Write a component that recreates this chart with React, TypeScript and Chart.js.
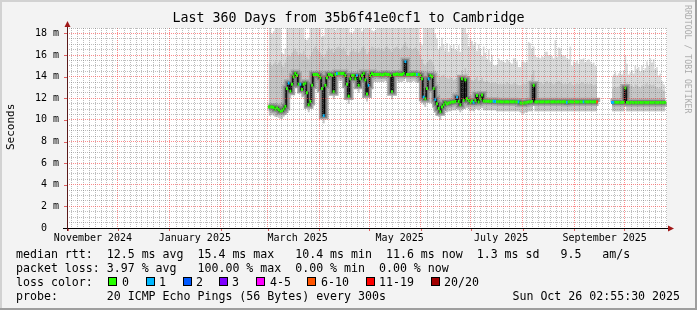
import React, { useEffect, useRef } from 'react';
import { Chart, registerables } from 'chart.js';

Chart.register(...registerables);

// x values are days since the graph start (2024-10-31); the graph spans 360 days
const X_MIN_DAY = 0;
const X_MAX_DAY = 360;
const Y_MIN_MS = 0;
const Y_MAX_MS = 18.5;
const FIRST_DAY = 121; // first day with data (end of Feb 2025)

// median round-trip time per day, ms (null = no data)
const MEDIAN_MS = [
  11.2, 11.2, 11.2, 11.15, 11.0, 11.1, 10.95, 10.8, 10.85, 11.0,
  11.25, 12.9, 13.4, 12.65, 13.3, 14.0, 14.3, 14.1, 13.3, 13.3,
  12.8, 13.3, 13.4, 12.5, 11.4, 11.7, 13.2, 14.2, 14.2, 14.2,
  14.1, 13.9, 12.9, 10.4, 13.2, 13.9, 14.2, 14.2, 14.1, 12.6,
  14.2, 14.3, 14.3, 14.3, 14.3, 14.3, 14.1, 13.3, 12.2, 13.8,
  14.1, 14.1, 13.8, 14.1, 13.2, 13.8, 14.1, 14.3, 13.7, 12.4,
  13.2, 14.1, 14.3, 14.2, 14.2, 14.2, 14.2, 14.2, 14.15, 14.2,
  14.25, 14.2, 14.2, 14.1, 12.6, 14.2, 14.2, 14.25, 14.2, 14.2,
  14.2, 14.3, 15.4, 14.2, 14.2, 14.2, 14.2, 14.25, 14.2, 14.2,
  14.2, 14.1, 13.8, 12.1, 11.95, 12.9, 13.8, 14.1, 14.0, 12.9,
  11.9, 11.5, 11.05, 10.75, 11.2, 11.4, 11.6, 11.5, 11.55, 11.6,
  11.65, 11.65, 11.7, 12.1, 11.7, 11.4, 13.8, 11.8, 13.7, 11.95,
  11.8, 11.6, 11.72, 11.6, 11.8, 12.25, 11.65, 11.95, 12.3, 11.75,
  11.72, 11.72, 11.72, 11.7, 11.72, 11.72, 11.7, 11.68, 11.68, 11.68,
  11.66, 11.68, 11.66, 11.68, 11.66, 11.68, 11.66, 11.68, 11.66, 11.66,
  11.66, 11.56, 11.55, 11.55, 11.58, 11.6, 11.66, 11.66, 11.7, 13.2,
  11.66, 11.66, 11.68, 11.66, 11.66, 11.68, 11.66, 11.66, 11.68, 11.66,
  11.66, 11.68, 11.66, 11.66, 11.68, 11.66, 11.66, 11.68, 11.66, 11.6,
  11.66, 11.68, 11.66, 11.66, 11.68, 11.66, 11.66, 11.68, 11.66, 11.66,
  11.68, 11.66, 11.66, 11.68, 11.66, 11.66, 11.68, 11.66, null, null,
  null, null, null, null, null, null, 11.6, 11.6, 11.62, 11.6,
  11.62, 11.6, 11.6, 11.62, 12.95, 11.6, 11.58, 11.6, 11.6, 11.58,
  11.6, 11.58, 11.6, 11.6, 11.58, 11.6, 11.6, 11.58, 11.6, 11.6,
  11.58, 11.6, 11.6, 11.58, 11.6, 11.6, 11.58, 11.6, 11.6,
];

// loss bucket per day (index into LOSS_COLORS)
const LOSS_BUCKET = [
  0, 0, 0, 0, 0, 0, 0, 0, 0, 0,
  0, 0, 1, 0, 0, 0, 0, 0, 0, 1,
  0, 0, 0, 0, 0, 0, 0, 0, 0, 0,
  0, 0, 0, 1, 0, 0, 0, 0, 0, 0,
  0, 1, 0, 0, 0, 0, 0, 0, 0, 0,
  0, 0, 0, 1, 0, 0, 0, 0, 0, 0,
  1, 0, 0, 0, 0, 0, 0, 0, 0, 0,
  0, 0, 0, 0, 0, 0, 0, 0, 0, 0,
  0, 0, 1, 0, 0, 0, 0, 0, 0, 1,
  0, 0, 0, 1, 0, 0, 1, 0, 0, 0,
  1, 0, 0, 0, 0, 0, 0, 0, 0, 0,
  0, 0, 0, 1, 0, 0, 0, 0, 0, 0,
  0, 0, 0, 1, 0, 0, 0, 0, 0, 0,
  0, 0, 0, 0, 0, 1, 1, 0, 0, 0,
  0, 0, 0, 0, 0, 0, 0, 0, 0, 0,
  1, 0, 0, 0, 0, 0, 0, 0, 0, 0,
  0, 0, 0, 0, 0, 0, 0, 0, 0, 0,
  0, 0, 0, 0, 0, 0, 0, 0, 0, 1,
  0, 0, 0, 0, 0, 0, 0, 0, 0, 1,
  0, 0, 0, 0, 0, 0, 0, 5, null, null,
  null, null, null, null, null, null, 1, 1, 0, 0,
  0, 0, 0, 0, 0, 0, 0, 0, 0, 0,
  0, 0, 0, 0, 0, 0, 0, 0, 0, 0,
  0, 0, 0, 0, 0, 0, 0, 0, 0,
];

// lower edge of the smoke, ms
const SMOKE_MIN_MS = [
  10.4, 10.4, 10.5, 10.4, 10.3, 10.3, 10.2, 10.1, 10.1, 10.3,
  10.5, 11.0, 12.6, 12.0, 12.5, 13.2, 13.6, 13.2, 12.6, 12.5,
  12.1, 12.5, 12.2, 11.4, 10.7, 11.0, 11.8, 13.5, 13.5, 13.5,
  13.4, 13.0, 12.0, 9.7, 12.2, 13.2, 13.5, 13.5, 13.3, 11.9,
  13.5, 13.6, 13.6, 13.6, 13.6, 13.6, 13.3, 12.4, 11.5, 12.6,
  13.4, 13.4, 13.1, 13.4, 12.5, 13.0, 13.4, 13.5, 12.9, 11.7,
  12.4, 13.3, 13.6, 13.5, 13.5, 13.5, 13.5, 13.5, 13.5, 13.5,
  13.6, 13.5, 13.5, 13.2, 11.9, 13.4, 13.5, 13.6, 13.5, 13.5,
  13.5, 13.6, 14.0, 13.5, 13.5, 13.5, 13.5, 13.6, 13.5, 13.5,
  13.5, 13.3, 12.9, 11.4, 11.2, 11.8, 12.9, 13.3, 13.0, 12.0,
  11.2, 10.8, 10.3, 10.0, 10.4, 10.6, 10.8, 10.7, 10.8, 10.8,
  10.9, 10.9, 10.9, 11.1, 10.9, 10.7, 10.9, 11.0, 11.0, 11.1,
  11.0, 10.8, 10.9, 10.8, 11.0, 11.0, 10.9, 11.0, 11.1, 10.9,
  10.9, 10.9, 10.9, 10.9, 10.9, 10.9, 10.9, 10.8, 10.8, 10.8,
  10.8, 10.8, 10.8, 10.8, 10.8, 10.8, 10.8, 10.8, 10.8, 10.8,
  10.8, 10.7, 10.6, 10.6, 10.7, 10.7, 10.8, 10.8, 10.8, 12.3,
  10.8, 10.8, 10.8, 10.8, 10.8, 10.8, 10.8, 10.8, 10.8, 10.8,
  10.8, 10.8, 10.8, 10.8, 10.8, 10.8, 10.8, 10.8, 10.8, 10.8,
  10.8, 10.8, 10.8, 10.8, 10.8, 10.8, 10.8, 10.8, 10.8, 10.8,
  10.8, 10.8, 10.8, 10.8, 10.8, 10.8, 10.8, 10.8, null, null,
  null, null, null, null, null, null, 10.8, 10.8, 10.8, 10.8,
  10.8, 10.8, 10.8, 10.8, 12.2, 10.8, 10.8, 10.8, 10.8, 10.8,
  10.8, 10.8, 10.8, 10.8, 10.8, 10.8, 10.8, 10.8, 10.8, 10.8,
  10.8, 10.8, 10.8, 10.8, 10.8, 10.8, 10.8, 10.8, 10.8,
];

// upper edge of the denser (middle) smoke, ms
const SMOKE_MID_MS = [
  15.2, 15.3, 15.0, 15.2, 15.4, 15.1, 15.3, 15.5, 15.0, 14.9,
  15.3, 15.8, 16.0, 15.9, 16.2, 16.4, 16.6, 16.3, 16.0, 16.2,
  16.1, 16.4, 16.0, 15.8, 15.6, 15.9, 16.3, 16.6, 16.8, 16.5,
  16.4, 16.2, 16.0, 15.8, 16.1, 16.4, 16.7, 16.5, 16.6, 16.2,
  16.5, 16.7, 16.8, 16.6, 16.5, 16.7, 16.4, 16.0, 15.9, 16.3,
  16.4, 16.6, 16.3, 16.5, 16.2, 16.4, 16.7, 16.8, 16.5, 16.1,
  16.3, 16.6, 16.8, 16.7, 16.5, 16.6, 16.7, 16.5, 16.6, 16.4,
  16.7, 16.8, 16.6, 16.5, 16.3, 16.6, 16.7, 16.8, 16.6, 16.5,
  16.7, 16.9, 17.2, 16.8, 16.6, 16.7, 16.5, 16.6, 16.7, 16.5,
  16.4, 16.0, 15.6, 15.2, 15.0, 15.3, 15.5, 15.6, 15.4, 15.0,
  14.6, 14.4, 14.2, 14.0, 14.1, 14.2, 14.0, 13.9, 13.8, 14.0,
  13.9, 13.7, 13.8, 13.9, 13.8, 13.9, 14.6, 14.2, 14.8, 14.3,
  13.9, 13.8, 13.7, 13.6, 13.8, 14.0, 13.6, 13.7, 13.9, 13.6,
  13.5, 13.6, 13.5, 13.4, 13.5, 13.4, 13.5, 13.4, 13.3, 13.4,
  13.3, 13.4, 13.3, 13.5, 13.4, 13.3, 13.3, 13.4, 13.5, 13.3,
  13.2, 13.2, 13.3, 13.4, 13.3, 13.4, 13.6, 13.7, 14.2, 14.6,
  13.6, 13.5, 13.4, 13.5, 13.4, 13.3, 13.5, 13.6, 13.4, 13.5,
  13.4, 13.3, 13.4, 13.5, 13.6, 13.5, 13.4, 13.3, 13.4, 13.3,
  13.4, 13.5, 13.3, 13.2, 13.3, 13.4, 13.3, 13.4, 13.5, 13.4,
  13.3, 13.4, 13.3, 13.4, 13.3, 13.2, 13.3, 13.2, null, null,
  null, null, null, null, null, null, 12.9, 13.0, 13.1, 13.0,
  13.1, 13.2, 13.0, 13.1, 13.9, 13.4, 13.0, 13.1, 13.2, 13.0,
  13.3, 13.2, 13.1, 13.0, 13.2, 13.1, 13.3, 13.4, 13.2, 13.3,
  13.2, 13.3, 13.1, 13.0, 12.9, 13.0, 12.8, 12.7, 12.7,
];

// upper edge of the lightest smoke (highest ping), ms; values above 18.5 are clipped
const SMOKE_MAX_MS = [
  19, 19, 18.0, 18.2, 19, 19, 19, 19, 16.2, 16.1,
  16.6, 19, 19, 19, 18.6, 19, 19, 19, 19, 19,
  19, 19, 17.5, 17.4, 17.6, 19, 19, 19, 19, 19,
  19, 19, 17.7, 17.8, 19, 19, 19, 19, 19, 19,
  18.3, 19, 19, 19, 19, 19, 19, 19, 19, 18.1,
  18.0, 18.2, 19, 19, 19, 19, 18.2, 18.4, 19, 19,
  19, 19, 18.3, 18.2, 18.3, 19, 19, 19, 19, 18.6,
  19, 19, 19, 19, 19, 19, 19, 19, 19, 19,
  19, 19, 19, 19, 19, 19, 19, 19, 19, 19,
  19, 17.2, 16.9, 19, 19, 19, 19, 19, 19, 19,
  18.0, 17.5, 16.5, 16.8, 17.6, 17.0, 16.4, 17.1, 16.3, 16.9,
  16.6, 17.0, 16.5, 16.4, 16.9, 16.3, 19, 19, 19, 18.0,
  16.8, 17.5, 17.3, 16.9, 17.2, 16.4, 17.0, 16.6, 15.9, 16.8,
  16.2, 15.6, 16.5, 15.4, 16.0, 15.1, 15.0, 15.1, 15.7, 15.5,
  15.5, 15.4, 15.3, 15.6, 15.5, 15.3, 15.2, 15.7, 15.7, 15.4,
  14.9, 14.9, 15.4, 15.4, 15.3, 15.4, 17.2, 17.1, 16.6, 16.8,
  16.0, 15.8, 15.8, 15.7, 15.9, 15.8, 16.3, 16.3, 16.0, 16.0,
  15.9, 15.7, 17.4, 15.8, 16.7, 16.6, 16.0, 15.9, 16.0, 15.7,
  15.6, 16.8, 15.0, 15.4, 15.3, 15.5, 15.2, 15.6, 15.6, 15.7,
  15.3, 15.5, 15.6, 15.4, 15.2, 15.3, 15.0, 14.9, null, null,
  null, null, null, null, null, null, 14.0, 14.2, 14.4, 14.1,
  14.3, 14.5, 14.2, 14.6, 16.0, 15.2, 14.2, 14.4, 14.6, 14.3,
  15.0, 14.7, 14.9, 14.5, 15.0, 14.6, 14.8, 15.4, 15.0, 15.7,
  15.3, 15.6, 14.7, 14.9, 14.1, 14.3, 13.6, 13.3, 13.2,
];

const LOSS_COLORS = ['#26ff00', '#00b8ff', '#0059ff', '#7e00ff', '#ff00ff', '#ff5500', '#ff0000', '#a10000'];
const LOSS_LABELS = ['0', '1', '2', '3', '4-5', '6-10', '11-19', '20/20'];

// grid / axis labels
const MONTH_LINE_DAYS = [0.3, 30.3, 61.3, 92.3, 120.3, 151.3, 181.3, 212.3, 242.3, 273.3, 304.3, 334.3];
const MONTH_LABELS = ['November 2024', 'January 2025', 'March 2025', 'May 2025', 'July 2025', 'September 2025'];
const MONTH_LABEL_DAYS = [15.6, 76.7, 138.4, 199.6, 260.5, 322.6];
const Y_LABEL_VALUES = [0, 2, 4, 6, 8, 10, 12, 14, 16, 18];

const TITLE = 'Last 360 Days from 35b6f41e0cf1 to Cambridge';
const LEGEND_LINE_1 = 'median rtt:  12.5 ms avg  15.4 ms max   10.4 ms min  11.6 ms now  1.3 ms sd   9.5   am/s';
const LEGEND_LINE_2 = 'packet loss: 3.97 % avg   100.00 % max  0.00 % min  0.00 % now';
const LEGEND_LINE_3 = 'loss color:';
const LEGEND_LINE_4 = 'probe:       20 ICMP Echo Pings (56 Bytes) every 300s';
const TIMESTAMP = 'Sun Oct 26 02:55:30 2025';

const MAJOR_GRID = 'rgba(250, 70, 70, 0.62)';
const MINOR_GRID = 'rgba(110, 110, 110, 0.45)';
const MONO = '"DejaVu Sans Mono", monospace';

const pts = (arr: (number | null)[]) => arr.map((v, i) => ({ x: FIRST_DAY + i, y: v }));

const minorDays: number[] = [];
for (let d = 2.9; d < X_MAX_DAY; d += 3.5) {
  if (!MONTH_LINE_DAYS.some((m) => Math.abs(m - d) < 1.2)) minorDays.push(Math.round(d * 100) / 100);
}
const labelMap = new Map<number, string>();
MONTH_LABEL_DAYS.forEach((d, i) => labelMap.set(d, MONTH_LABELS[i]));
const majorSet = new Set<number>(MONTH_LINE_DAYS);

const xTickValues = [...MONTH_LINE_DAYS, ...minorDays, ...MONTH_LABEL_DAYS].sort((a, b) => a - b);
const yTickValues: number[] = [];
for (let v = 0; v <= Y_MAX_MS + 1e-9; v += 0.5) yTickValues.push(Math.round(v * 10) / 10);

const framePlugin = {
  id: 'rrdFrame',
  beforeDraw(chart: any) {
    const { ctx, chartArea: a } = chart;
    ctx.save();
    ctx.fillStyle = '#ffffff';
    ctx.fillRect(a.left, a.top, a.right - a.left, a.bottom - a.top);
    ctx.restore();
  },
  afterDraw(chart: any) {
    const { ctx, chartArea: a, scales } = chart;
    ctx.save();
    ctx.strokeStyle = 'rgba(220, 60, 60, 0.8)';
    ctx.lineWidth = 1;
    MONTH_LINE_DAYS.forEach((d) => {
      const x = Math.round(scales.x.getPixelForValue(d)) + 0.5;
      ctx.beginPath();
      ctx.moveTo(x, a.bottom);
      ctx.lineTo(x, a.bottom + 3);
      ctx.stroke();
    });
    Y_LABEL_VALUES.forEach((v) => {
      const y = Math.round(scales.y.getPixelForValue(v)) + 0.5;
      ctx.beginPath();
      ctx.moveTo(a.left - 3, y);
      ctx.lineTo(a.left, y);
      ctx.stroke();
    });
    ctx.strokeStyle = '#000000';
    ctx.beginPath();
    ctx.moveTo(a.left - 4, a.bottom + 0.5);
    ctx.lineTo(a.right + 2, a.bottom + 0.5);
    ctx.stroke();
    ctx.strokeStyle = '#5a1a1a';
    ctx.beginPath();
    ctx.moveTo(a.left + 0.5, a.bottom + 3);
    ctx.lineTo(a.left + 0.5, a.top - 2);
    ctx.stroke();
    ctx.fillStyle = '#a01818';
    ctx.beginPath();
    ctx.moveTo(a.left + 0.5, a.top - 7);
    ctx.lineTo(a.left - 2.5, a.top - 1);
    ctx.lineTo(a.left + 3.5, a.top - 1);
    ctx.closePath();
    ctx.fill();
    ctx.beginPath();
    ctx.moveTo(a.right + 7, a.bottom + 0.5);
    ctx.lineTo(a.right + 1, a.bottom - 2.5);
    ctx.lineTo(a.right + 1, a.bottom + 3.5);
    ctx.closePath();
    ctx.fill();
    ctx.restore();
  },
};

const hidden = 'rgba(0,0,0,0)';

export default function App() {
  const ref = useRef<HTMLCanvasElement>(null);

  useEffect(() => {
    if (!ref.current) return;
    const lossColors = LOSS_BUCKET.map((b) => (b == null ? hidden : LOSS_COLORS[b]));
    const medianLine = (width: number, color: string, order: number) => ({
      data: pts(MEDIAN_MS),
      borderColor: color,
      borderWidth: width,
      pointRadius: 0,
      stepped: 'middle' as const,
      fill: false,
      borderCapStyle: 'butt' as const,
      borderJoinStyle: 'miter' as const,
      order,
    });
    const chart = new Chart(ref.current, {
      type: 'line',
      data: {
        datasets: [
          { data: pts(SMOKE_MIN_MS), borderColor: hidden, borderWidth: 0, pointRadius: 0, stepped: 'middle', fill: false, order: 10 },
          { data: pts(SMOKE_MAX_MS), borderColor: hidden, borderWidth: 0, pointRadius: 0, stepped: 'middle', fill: 0, backgroundColor: '#dadada', order: 9 },
          { data: pts(SMOKE_MID_MS), borderColor: hidden, borderWidth: 0, pointRadius: 0, stepped: 'middle', fill: 0, backgroundColor: '#c6c6c6', order: 8 },
          medianLine(8, '#a9a9a9', 7),
          medianLine(5, '#828282', 6),
          medianLine(2.5, '#555555', 5),
          medianLine(1.2, '#000000', 4),
          {
            data: pts(MEDIAN_MS),
            showLine: false,
            pointStyle: 'line',
            pointRadius: 1,
            pointBorderWidth: 3,
            pointBorderColor: lossColors,
            pointBackgroundColor: lossColors,
            pointHoverRadius: 0,
            order: 3,
          },
        ] as any,
      },
      options: {
        responsive: false,
        devicePixelRatio: 1,
        animation: false,
        events: [],
        layout: { padding: { left: 0, top: 28, right: 30, bottom: 62 } },
        plugins: { legend: { display: false }, tooltip: { enabled: false }, title: { display: false } },
        scales: {
          x: {
            type: 'linear',
            min: X_MIN_DAY,
            max: X_MAX_DAY,
            afterBuildTicks: (scale: any) => {
              scale.ticks = xTickValues.map((v) => ({ value: v }));
            },
            afterFit: (scale: any) => {
              scale.height = 20;
            },
            ticks: {
              autoSkip: false,
              maxRotation: 0,
              minRotation: 0,
              padding: 4,
              color: '#000000',
              font: { family: MONO, size: 10 },
              callback: (value: any) => labelMap.get(value) ?? '',
            },
            grid: {
              z: 1,
              drawTicks: false,
              lineWidth: 1,
              color: (ctx: any) => {
                const v = ctx.tick ? ctx.tick.value : null;
                if (v == null || labelMap.has(v)) return hidden;
                return majorSet.has(v) ? MAJOR_GRID : MINOR_GRID;
              },
            },
            border: { display: false, dash: [1, 1] },
          },
          y: {
            type: 'linear',
            min: Y_MIN_MS,
            max: Y_MAX_MS,
            afterBuildTicks: (scale: any) => {
              scale.ticks = yTickValues.map((v) => ({ value: v }));
            },
            afterFit: (scale: any) => {
              scale.width = 67;
            },
            ticks: {
              autoSkip: false,
              padding: 8,
              color: '#000000',
              font: { family: MONO, size: 10 },
              callback: (value: any) => {
                if (!Y_LABEL_VALUES.includes(value)) return '';
                return value === 0 ? '0  ' : `${value} m`;
              },
            },
            grid: {
              z: 1,
              drawTicks: false,
              lineWidth: 1,
              color: (ctx: any) => {
                const v = ctx.tick ? ctx.tick.value : null;
                if (v == null || v === 0) return hidden;
                return Y_LABEL_VALUES.includes(v) ? MAJOR_GRID : MINOR_GRID;
              },
            },
            border: { display: false, dash: [1, 1] },
          },
        },
      } as any,
      plugins: [framePlugin],
    });
    return () => chart.destroy();
  }, []);

  const text = (top: number, content: string, extra: any = {}) => (
    <div
      style={{
        position: 'absolute',
        left: 16,
        top,
        fontFamily: MONO,
        fontSize: '11.6px',
        lineHeight: '14px',
        whiteSpace: 'pre',
        color: '#000',
        ...extra,
      }}
    >
      {content}
    </div>
  );

  const boxX = [108, 146, 183, 219, 256, 307, 366, 431];
  const boxLabelX = [122, 159, 196, 232, 270, 321, 379, 444];

  return (
    <div
      style={{
        position: 'absolute',
        left: 0,
        top: 0,
        width: 697,
        height: 310,
        background: '#f3f3f3',
        overflow: 'hidden',
      }}
    >
      <canvas
        ref={ref}
        width={697}
        height={310}
        style={{ position: 'absolute', left: 0, top: 0, width: 697, height: 310 }}
      />
      <div style={{ position: 'absolute', left: 0, top: 0, width: 697, height: 2, background: '#d2d2d2' }} />
      <div style={{ position: 'absolute', left: 0, top: 0, width: 2, height: 310, background: '#d2d2d2' }} />
      <div style={{ position: 'absolute', left: 695, top: 0, width: 2, height: 310, background: '#9e9e9e' }} />
      <div style={{ position: 'absolute', left: 0, top: 308, width: 697, height: 2, background: '#9e9e9e' }} />
      <div
        style={{
          position: 'absolute',
          left: 0,
          top: 10,
          width: 697,
          textAlign: 'center',
          fontFamily: MONO,
          fontSize: '13.3px',
          lineHeight: '16px',
          whiteSpace: 'pre',
          color: '#000',
        }}
      >
        {TITLE}
      </div>
      <div
        style={{
          position: 'absolute',
          left: 5,
          top: 150,
          transformOrigin: '0 0',
          transform: 'rotate(-90deg)',
          fontFamily: MONO,
          fontSize: '11px',
          lineHeight: '12px',
          whiteSpace: 'pre',
          color: '#000',
        }}
      >
        Seconds
      </div>
      <div
        style={{
          position: 'absolute',
          left: 693,
          top: 5,
          transformOrigin: '0 0',
          transform: 'rotate(90deg)',
          fontFamily: MONO,
          fontSize: '8.2px',
          lineHeight: '10px',
          whiteSpace: 'pre',
          color: '#ababab',
        }}
      >
        RRDTOOL / TOBI OETIKER
      </div>
      {text(247, LEGEND_LINE_1)}
      {text(261, LEGEND_LINE_2)}
      {text(275, LEGEND_LINE_3)}
      {LOSS_LABELS.map((lab, i) => (
        <React.Fragment key={lab}>
          <div
            style={{
              position: 'absolute',
              left: boxX[i],
              top: 277,
              width: 7,
              height: 7,
              border: '1px solid #000',
              background: LOSS_COLORS[i],
            }}
          />
          {text(275, lab, { left: boxLabelX[i] })}
        </React.Fragment>
      ))}
      {text(289, LEGEND_LINE_4)}
      {text(289, TIMESTAMP, { left: 'auto', right: 17 })}
    </div>
  );
}
